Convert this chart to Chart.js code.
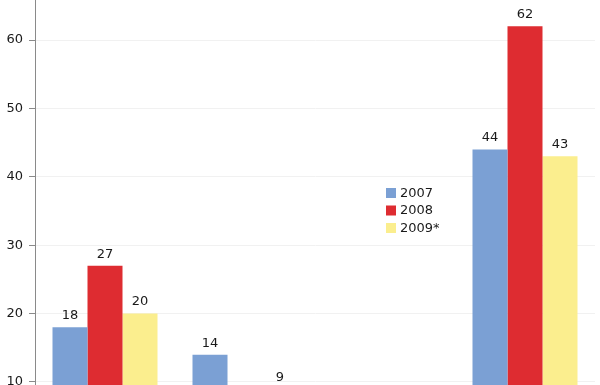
<!DOCTYPE html>
<html>
<head>
<meta charset="utf-8">
<script src="https://cdn.jsdelivr.net/npm/chart.js@4/dist/chart.umd.min.js"></script>
<style>
  html, body { margin: 0; padding: 0; background: #fff; }
  #wrap { width: 600px; height: 385px; position: relative; }
</style>
</head>
<body>
<div id="wrap"><canvas id="grafico"></canvas></div>
<script>
// Datos (el eje x está recortado en la imagen)
const categorias = ["1", "2", "3", "4"];
const serie2007 = [18, 14, null, 44];
const serie2008 = [27, null, null, 62];
const serie2009 = [20, 9, null, 43];
const nombresSeries = ["2007", "2008", "2009*"];
const coloresSeries = ["#7ba0d4", "#de2c31", "#fbee8e"];
const ticksY = [10, 20, 30, 40, 50, 60];

const fuente = "'DejaVu Sans', Verdana, sans-serif";

// Etiquetas de valor encima de cada barra
const etiquetasValor = {
  id: "etiquetasValor",
  afterDatasetsDraw(chart) {
    const ctx = chart.ctx;
    ctx.save();
    ctx.font = "13px " + fuente;
    ctx.fillStyle = "#1a1a1a";
    ctx.textAlign = "center";
    ctx.textBaseline = "bottom";
    chart.data.datasets.forEach((ds, i) => {
      chart.getDatasetMeta(i).data.forEach((bar, j) => {
        const v = ds.data[j];
        if (v == null) return;
        ctx.fillText(String(v), bar.x, bar.y - 5);
      });
    });
    ctx.restore();
  }
};

// Leyenda dentro del área del gráfico
const leyendaInterna = {
  id: "leyendaInterna",
  afterDraw(chart) {
    const ctx = chart.ctx;
    ctx.save();
    ctx.font = "13px " + fuente;
    ctx.textBaseline = "middle";
    chart.data.datasets.forEach((ds, i) => {
      const y = 193 + i * 17.5;
      ctx.fillStyle = ds.backgroundColor;
      ctx.fillRect(386, y - 5, 10, 10);
      ctx.fillStyle = "#1a1a1a";
      ctx.fillText(ds.label, 400, y + 0.5);
    });
    ctx.restore();
  }
};

const series = [serie2007, serie2008, serie2009];

new Chart(document.getElementById("grafico"), {
  type: "bar",
  data: {
    labels: categorias,
    datasets: series.map((d, i) => ({
      label: nombresSeries[i],
      data: d,
      backgroundColor: coloresSeries[i],
      borderWidth: 0,
      categoryPercentage: 0.75,
      barPercentage: 1.0
    }))
  },
  options: {
    responsive: true,
    maintainAspectRatio: false,
    animation: false,
    layout: { padding: { left: 0, right: 5, top: 0, bottom: 0 } },
    plugins: {
      legend: { display: false },
      tooltip: { enabled: false }
    },
    scales: {
      x: { display: false },
      y: {
        min: 9.56,
        max: 65.85,
        afterBuildTicks: (axis) => { axis.ticks = ticksY.map(v => ({ value: v })); },
        afterFit: (axis) => { axis.width = 35; axis.paddingTop = 0; axis.paddingBottom = 0; },
        grid: { color: "#f1f1f1", tickLength: 6, drawTicks: true, tickColor: "#8a8a8a" },
        border: { display: true, color: "#8a8a8a", width: 1 },
        ticks: { padding: 6, color: "#1a1a1a", font: { family: fuente, size: 13 } }
      }
    }
  },
  plugins: [etiquetasValor, leyendaInterna]
});
</script>
</body>
</html>
